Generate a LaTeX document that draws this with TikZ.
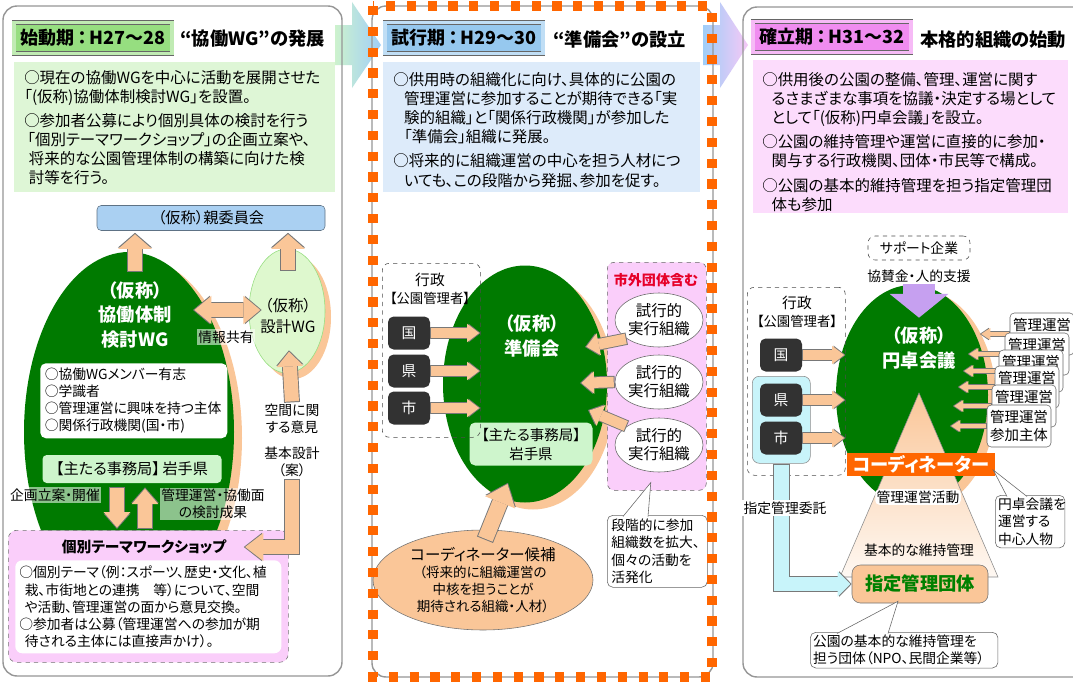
\documentclass[tikz,border=0pt]{standalone}
\usepackage{fontspec}
\setmainfont{Noto Sans CJK JP}[RawFeature={+palt}]
\usetikzlibrary{arrows.meta,shapes.geometric,positioning,calc}

\newdimen\pxu
\pxu=0.025cm
\newcommand\fz[2]{\fontsize{#1}{#2}\selectfont}

\definecolor{waku}{RGB}{150,150,150}
\definecolor{hiiro}{RGB}{0,122,0}
\definecolor{momo}{RGB}{250,198,152}
\definecolor{yasen}{RGB}{120,120,120}
\definecolor{midori1}{RGB}{150,222,128}
\definecolor{midori2}{RGB}{222,246,214}
\definecolor{midori3}{RGB}{206,245,204}
\definecolor{sekkeiiro}{RGB}{222,248,206}
\definecolor{ao1}{RGB}{150,200,238}
\definecolor{ao2}{RGB}{221,235,250}
\definecolor{ao3}{RGB}{170,208,242}
\definecolor{aka1}{RGB}{240,140,240}
\definecolor{aka2}{RGB}{252,220,252}
\definecolor{aka3}{RGB}{250,206,250}
\definecolor{akaji}{RGB}{230,0,40}
\definecolor{mizu}{RGB}{200,244,250}
\definecolor{dai}{RGB}{255,102,0}
\definecolor{fuji}{RGB}{198,160,240}
\definecolor{kuro}{RGB}{50,50,50}
\definecolor{ya1}{RGB}{205,242,205}
\definecolor{ya2}{RGB}{160,206,248}
\definecolor{ya3}{RGB}{246,200,246}
\definecolor{shiteiji}{RGB}{0,128,0}

\begin{document}
\begin{tikzpicture}[x=0.025cm, y=-0.025cm,
    wh/.style 2 args={minimum width=#1*\pxu, minimum height=#2*\pxu},
    hon/.style={font=\fz{11}{13.6}, align=left, inner sep=0pt},
    komoji/.style={font=\fz{9.8}{12.2}, align=center, inner sep=1pt},
    midashi/.style={font=\fz{13}{15}\bfseries, inner sep=0pt},
    kikan/.style={draw=black!60, double=#1!60!white, double distance=2.4pt, line width=0.5pt, fill=#1, wh={158}{31}, font=\fz{12.8}{14}\bfseries, inner sep=0pt},
    panel/.style={draw=waku, line width=1pt, rounded corners=10pt},
    daen/.style={ellipse, fill=hiiro, inner sep=0pt},
    kage/.style={ellipse, fill=momo, inner sep=0pt},
    shiro/.style={text=white, font=\fz{13}{17.5}\bfseries, align=center, inner sep=0pt},
    hako/.style={fill=kuro, rounded corners=4pt, wh={42}{33}, text=white, font=\fz{10.5}{12}},
    tensen/.style={draw=black!70, dashed, rounded corners=5pt},
    fukidashi/.style={draw=black!60, fill=white, rounded corners=4pt, align=left, font=\fz{9.8}{12.2}, inner sep=2pt, anchor=north west},
    kanri/.style={draw=black!60, fill=white, rounded corners=3pt, wh={64}{42}, font=\fz{10.3}{12.3}, align=center, inner sep=1pt},
    usumi/.style={fill=white, fill opacity=0.55, text opacity=1},
    blk/.style n args={4}{draw=#1, line width=#2pt, line join=miter,
      -{Triangle[width=#3pt,length=#4pt,line width=0pt]},
      shorten >=1pt, shorten <=0.7pt,
      preaction={draw=yasen, line width=#2pt+1.3pt, shorten >=0pt, shorten <=0pt,
        -{Triangle[width=#3pt,length=#4pt,line width=1.3pt]}}},
    blkw/.style n args={4}{draw=#1, line width=#2pt, line join=miter,
      {Triangle[width=#3pt,length=#4pt,line width=0pt]}-{Triangle[width=#3pt,length=#4pt,line width=0pt]},
      shorten >=1pt, shorten <=1pt,
      preaction={draw=yasen, line width=#2pt+1.3pt, shorten >=0pt, shorten <=0pt,
        {Triangle[width=#3pt,length=#4pt,line width=1.3pt]}-{Triangle[width=#3pt,length=#4pt,line width=1.3pt]}}},
  ]
  \useasboundingbox (0,0) rectangle (1073,684);
  \fill[white] (0,0) rectangle (1073,684);

  % phase arrows
  \shade[left color=ya1, right color=ya2] (335,25) -- (352,25) -- (352,2) -- (381,45) -- (352,88) -- (352,65) -- (335,65) -- cycle;
  \shade[left color=ya2, right color=ya3] (703,25) -- (720,25) -- (720,2) -- (748,45) -- (720,88) -- (720,65) -- (703,65) -- cycle;

  % ---- phase 1
  \draw[panel] (3,6) rectangle (342,676);
  \node[kikan=midori1] (t1) at (93,38) {始動期\,：\,H27～28};
  \node[midashi, anchor=west] (h1) at (180,39) {“協働WG”の発展};
  \fill[midori2] (14,62) rectangle (335,192);
  \node[hon, anchor=north west] (s1) at (24,70) {○現在の協働WGを中心に活動を展開させた\\「(仮称)協働体制検討WG」を設置。\\[3.6pt]○参加者公募により個別具体の検討を行う\\\hspace*{.2em}「個別テーマワークショップ」の企画立案や、\\\hspace*{.3em}将来的な公園管理体制の構築に向けた検\\\hspace*{.3em}討等を行う。};

  \node[draw=ao3!55!black, fill=ao3, rounded corners=3pt, wh={228}{25}, font=\fz{10.8}{13}, inner sep=0pt] (oya) at (211,218) {（仮称）親委員会};

  \node[kage, wh={210}{360}] (kyokage) at (137,438) {};
  \node[daen, wh={210}{360}] (kyo) at (129,432) {};
  \node[shiro] (kyo1) at (135,315) {（仮称）\\協働体制\\検討WG};
  \node[fill=white, rounded corners=4pt, anchor=north west, align=left, font=\fz{9.8}{12.1}, text width=4.45cm, inner xsep=0.1cm, inner ysep=3pt, wh={187}{75}] (meibo) at (40,363) {○協働WGメンバー有志\\○学識者\\○管理運営に興味を持つ主体\\○関係行政機関(国・市)};
  \node[fill=midori3, rounded corners=3pt, wh={179}{28}, font=\fz{10.8}{13}, inner sep=0pt] (jimu1) at (132,469) {【主たる事務局】\,岩手県};

  \node[kage, wh={76}{124}] (sekkeikage) at (293,317) {};
  \node[ellipse, draw=midori1, fill=sekkeiiro, wh={76}{124}, inner sep=0pt] (sekkei) at (287,311) {};
  \node[font=\fz{11}{14.5}, align=center, inner sep=0pt] (sekkei1) at (288,316) {（仮称）\\設計WG};

  \node[komoji, usumi] (jyoho) at (226,337) {情報共有};
  \node[komoji] (kukan) at (292,419) {空間に関\\する意見};
  \node[komoji] (kihon) at (292,462) {基本設計\\（案）};
  \node[komoji, usumi] (kikaku) at (55,495) {企画立案・開催};
  \node[komoji, usumi] (seika) at (213,504) {管理運営・協働面\\の検討成果};

  \node[draw=black!55, dashed, fill=aka3, rounded corners=6pt, wh={280}{132}, anchor=north west] (ws) at (8,530) {};
  \node[font=\fz{10.5}{12}\bfseries, inner sep=1pt] (wstitle) at (144,547) {個別テーマワークショップ};
  \node[fill=white, rounded corners=5pt, anchor=north west, align=left, font=\fz{9.8}{12.1}, text width=6.45cm, inner xsep=0.1cm, wh={265}{93}] (wsnaiyo) at (15,560) {○個別テーマ（例：スポーツ、歴史・文化、植\\\hspace*{.4em}栽、市街地との連携　等）について、空間\\\hspace*{.4em}や活動、管理運営の面から意見交換。\\○参加者は公募（管理運営への参加が期\\\hspace*{.4em}待される主体には直接声かけ）。};

  % arrows phase 1
  \draw[blk={momo}{10.5}{24}{10.5}] ($(kyo.north)+(6,20)$) -- ($(kyo.north |- oya.south)+(6,2)$);
  \draw[blk={momo}{10.5}{24}{10.5}] ($(sekkei.north)+(1,22)$) -- ($(sekkei.north |- oya.south)+(1,2)$);
  \draw[blkw={momo}{9.5}{20}{12}] ($(kyo.center)+(64,-122)$) -- ($(sekkei.west)+(13,-1)$);
  \draw[blk={momo}{10}{19}{10.5}] (kukan.north) -- ($(sekkei.south)+(2,-23)$);
  \draw[blk={momo}{9.5}{20}{13}] (kihon.south) |- ($(wstitle.east)+(16,0)$);
  \draw[blk={momo}{9.5}{19}{11}] ($(jimu1.south)+(-15,4)$) -- ($(jimu1.south |- ws.north)+(-15,-1)$);
  \draw[blk={momo}{9.5}{19}{11}] ($(jimu1.south |- ws.north)+(13,-1)$) -- ($(jimu1.south)+(13,4)$);

  % ---- phase 2
  \draw[panel] (372,6) rectangle (713,677);
  \node[kikan=ao1] (t2) at (464,38) {試行期\,：\,H29～30};
  \node[midashi, anchor=west] (h2) at (553,40) {“準備会”の設立};
  \fill[ao2] (383,62) rectangle (700,192);
  \node[hon, anchor=north west] (s2) at (393,72) {○供用時の組織化に向け、具体的に公園の\\\hspace*{.7em}管理運営に参加することが期待できる「実\\\hspace*{.7em}験的組織」と「関係行政機関」が参加した\\\hspace*{.7em}「準備会」組織に発展。\\[3.6pt]○将来的に組織運営の中心を担う人材につ\\\hspace*{.7em}いても、この段階から発掘、参加を促す。};

  \node[kage, wh={164}{237}] (junkage) at (533,391) {};
  \node[daen, wh={164}{237}] (jun) at (525,384) {};
  \node[shiro] (jun1) at (532,336) {（仮称）\\準備会};
  \node[fill=midori3, rounded corners=4pt, wh={123}{43}, font=\fz{10.3}{13.5}, align=center, inner sep=0pt] (jimu2) at (531,444) {【主たる事務局】\\岩手県};

  \node[tensen, wh={98}{174}, anchor=north west] (gyo2) at (382,263) {};
  \node[font=\fz{10.5}{12}, inner sep=0pt] (gyo2a) at (430,280) {行政};
  \node[font=\fz{9.5}{11}, inner sep=0pt] (gyo2b) at (430,298) {【公園管理者】};
  \node[hako] (kuni2) at (409,333) {国};
  \node[hako] (ken2) at (409,371) {県};
  \node[hako] (shi2) at (409,408) {市};

  \node[draw=black!60, dashed, fill=aka3, rounded corners=5pt, wh={99}{228}, anchor=north west] (gai) at (607,262) {};
  \node[font=\fz{10}{12}\bfseries, text=akaji, inner sep=0pt] (gai1) at (656,280) {市外団体含む};
  \node[ellipse, draw=black!60, fill=white, wh={88}{54}, font=\fz{11}{12.8}, align=center, inner sep=0pt] (jikko1) at (659,320) {試行的\\実行組織};
  \node[ellipse, draw=black!60, fill=white, wh={88}{54}, font=\fz{11}{12.8}, align=center, inner sep=0pt] (jikko2) at (659,382) {試行的\\実行組織};
  \node[ellipse, draw=black!60, fill=white, wh={88}{54}, font=\fz{11}{12.8}, align=center, inner sep=0pt] (jikko3) at (659,445) {試行的\\実行組織};

  \node[fukidashi, text width=2.3cm, wh={100}{72}] (dankai) at (607,515) {段階的に参加\\組織数を拡大、\\個々の活動を\\活発化};
  \draw[draw=black!60, fill=white] ($(dankai.north west)+(16,1.5)$) -- ($(gai.south)+(-6,-8)$) -- ($(dankai.north west)+(41,1.5)$);

  \node[ellipse, draw=black!55, fill=momo, wh={220}{100}, align=center, inner sep=0pt, font=\fz{9.6}{12.3}] (coord) at (483,580) {{\fz{11}{14}コーディネーター候補}\\（将来的に組織運営の\\中核を担うことが\\期待される組織・人材）};

  % arrows phase 2
  \draw[blk={momo}{7}{13}{8.5}] (kuni2.east) -- (kuni2.east -| gyo2.east);
  \draw[blk={momo}{7}{13}{8.5}] (ken2.east) -- (ken2.east -| gyo2.east);
  \draw[blk={momo}{7}{13}{8.5}] (shi2.east) -- (shi2.east -| gyo2.east);
  \draw[blk={momo}{7.5}{16}{9}] (jikko1.210) -- ($(jun.center)+(60,-37)$);
  \draw[blk={momo}{7.5}{16}{9}] (jikko2.west) -- ($(jun.center)+(55,-1)$);
  \draw[blk={momo}{7.5}{16}{9}] (jikko3.150) -- ($(jun.center)+(63,26)$);
  \draw[blk={momo}{11}{23}{14}] ($(coord.north)+(2,10)$) -- ($(jun.south)+(-17,-20)$);
  \draw[dai, line width=6.5pt, dash pattern=on 6.5pt off 8.3pt] (373,6) rectangle (712,677);

  % ---- phase 3
  \draw[panel] (743,7) rectangle (1090,677);
  \node[kikan=aka1] (t3) at (832,37) {確立期\,：\,H31～32};
  \node[midashi, anchor=west] (h3) at (920,40) {本格的組織の始動};
  \fill[aka2] (753,60) rectangle (1068,213);
  \node[hon, anchor=north west] (s3) at (762,72) {○供用後の公園の整備、管理、運営に関す\\\hspace*{.6em}るさまざまな事項を協議・決定する場として\\\hspace*{.6em}として「(仮称)円卓会議」を設立。\\[3.6pt]○公園の維持管理や運営に直接的に参加・\\\hspace*{.6em}関与する行政機関、団体・市民等で構成。\\[3.6pt]○公園の基本的維持管理を担う指定管理団\\\hspace*{.6em}体も参加};

  \node[tensen, wh={102}{24}, font=\fz{9.8}{12}, inner sep=0pt] (sup) at (919,248) {サポート企業};
  \node[komoji] (kyosan) at (919,276) {協賛金・人的支援};

  \node[kage, wh={152}{220}] (entakukage) at (920,400) {};
  \node[daen, wh={152}{220}] (entaku) at (912,395) {};
  \draw[fuji, line width=22.5pt, -{Triangle[width=41pt,length=17pt]}] (kyosan.south) -- ($(entaku.north)+(7,33)$);
  \node[shiro] (entaku1) at (919,348) {（仮称）\\円卓会議};

  \draw[draw=black!45, top color=momo, bottom color=momo!12] (919,393) -- (998,577) -- (840,577) -- cycle;
  \node[fill=dai, wh={148}{23}, text=white, font=\fz{13}{15}\bfseries, inner sep=0pt] (ctr) at (921,464) {コーディネーター};
  \node[komoji, fill=white, rounded corners=3pt] (katsudo) at (918,497) {管理運営活動};
  \node[komoji] (iji) at (919,550) {基本的な維持管理};
  \node[draw=black!55, fill=momo, rounded corners=6pt, wh={136}{38}, text=shiteiji, font=\fz{13}{15}\bfseries, inner sep=0pt] (shitei) at (920,584) {指定管理団体};

  \node[tensen, wh={98}{188}, anchor=north west] (gyo3) at (747,287) {};
  \node[font=\fz{10.5}{12}, inner sep=0pt] (gyo3a) at (797,303) {行政};
  \node[font=\fz{9.5}{11}, inner sep=0pt] (gyo3b) at (797,321) {【公園管理者】};
  \node[draw=black!45, fill=mizu, rounded corners=5pt, wh={58}{87}, anchor=north west] (kenshi) at (752,376) {};
  \node[hako] (kuni3) at (781,355) {国};
  \node[hako] (ken3) at (781,400) {県};
  \node[hako] (shi3) at (781,438) {市};

  % arrows phase 3
  \draw[blk={momo}{7}{13}{8.5}] (kuni3.east) -- (kuni3.east -| gyo3.east);
  \draw[blk={momo}{7}{13}{8.5}] (ken3.east) -- (ken3.east -| gyo3.east);
  \draw[blk={momo}{7}{13}{8.5}] (shi3.east) -- (shi3.east -| gyo3.east);
  \draw[blk={mizu}{10.5}{18}{9}] (kenshi.south) |- (shitei.west);
  \node[komoji, fill=white] (itaku) at (785,508) {指定管理委託};

  \node[fukidashi, text width=4.55cm] (koen) at (810,632) {公園の基本的な維持管理を\\担う団体（NPO、民間企業等）};
  \draw[draw=black!60, fill=white] ($(koen.north west)+(27,1.5)$) -- ($(shitei.south)+(-22,-2)$) -- ($(koen.north west)+(78,1.5)$);
  \node[fukidashi, text width=1.6cm] (enkaigi) at (995,495) {円卓会議を\\運営する\\中心人物};
  \draw[draw=black!60, fill=white] ($(enkaigi.north west)+(12,1.5)$) -- ($(ctr.east)+(-2,6)$) -- ($(enkaigi.north west)+(32,1.5)$);

  % participants
  \node[kanri] (kanri1) at (1042,334) {管理運営\\\phantom{管理運営}};
  \draw[blk={momo}{2.8}{8.5}{6.5}] (kanri1.west) -- ++(-30,0);
  \node[kanri] (kanri2) at (1037,354) {管理運営\\\phantom{管理運営}};
  \draw[blk={momo}{2.8}{8.5}{6.5}] (kanri2.west) -- ++(-37,0);
  \node[kanri] (kanri3) at (1031,371) {管理運営\\\phantom{管理運営}};
  \draw[blk={momo}{2.8}{8.5}{6.5}] (kanri3.west) -- ++(-36,0);
  \node[kanri] (kanri4) at (1027,387) {管理運営\\\phantom{管理運営}};
  \draw[blk={momo}{2.8}{8.5}{6.5}] (kanri4.west) -- ++(-37,0);
  \node[kanri] (kanri5) at (1024,406) {管理運営\\\phantom{管理運営}};
  \draw[blk={momo}{2.8}{8.5}{6.5}] (kanri5.west) -- ++(-39,0);
  \node[kanri] (kanri6) at (1019,426) {管理運営\\参加主体};
  \draw[blk={momo}{2.8}{8.5}{6.5}] (kanri6.west) -- ++(-37,0);
\end{tikzpicture}
\end{document}
